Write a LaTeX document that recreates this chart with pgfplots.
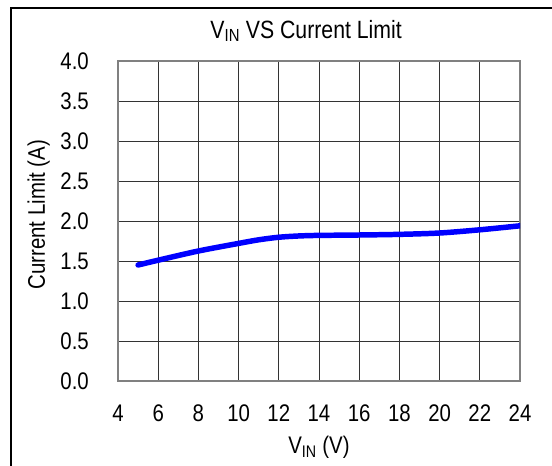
\documentclass[border=0pt]{standalone}
\usepackage{fontspec}
\setmainfont{Liberation Sans}[FakeStretch=0.85]
\usepackage{pgfplots}
\pgfplotsset{compat=1.18}
\begin{document}
\begin{tikzpicture}
\useasboundingbox (-118bp,-85bp) rectangle (434bp,381bp);
\begin{axis}[
  at={(0,0)}, anchor=south west,
  scale only axis,
  width=402bp, height=320bp,
  xmin=4, xmax=24, ymin=0, ymax=4,
  xtick={4,6,...,24},
  ytick={0,0.5,...,4},
  yticklabel style={/pgf/number format/fixed, /pgf/number format/fixed zerofill, /pgf/number format/precision=1, anchor=east, inner sep=0pt, xshift=-29bp},
  xticklabel style={anchor=base, inner sep=0pt, yshift=-40bp},
  /pgf/number format/assume math mode=true,
  tick label style={font=\fontsize{24bp}{28bp}\selectfont},
  major tick length=0pt,
  grid=major,
  major grid style={black!80, line width=0.9pt},
  axis line style={gray, line width=1.6pt},
  title={V\textsubscript{IN} VS Current Limit},
  title style={font=\fontsize{25bp}{29bp}\selectfont, at={(axis description cs:0.468,1.053)}, anchor=base, inner sep=0pt},
  xlabel={V\textsubscript{IN} (V)},
  xlabel style={font=\fontsize{24bp}{28bp}\selectfont, at={(axis description cs:0.5,-0.226)}, anchor=base, inner sep=0pt},
  ylabel={Current Limit (A)},
  ylabel style={font=\fontsize{24bp}{28bp}\selectfont, at={(axis description cs:-0.1816,0.52)}, rotate=0, anchor=base, inner sep=0pt},
]
\addplot[blue, line width=5.5pt, smooth, line cap=round] coordinates {
(5,1.45) (6,1.51) (8,1.625) (10,1.72) (11,1.765) (12,1.797) (13,1.813) (14,1.82) (16,1.825) (18,1.833) (20,1.85) (22,1.89) (24,1.94)
};
\end{axis}
\draw[line width=1.2pt] (-107bp,-90bp) -- (-107bp,373bp) -- (440bp,373bp);
\end{tikzpicture}
\end{document}
